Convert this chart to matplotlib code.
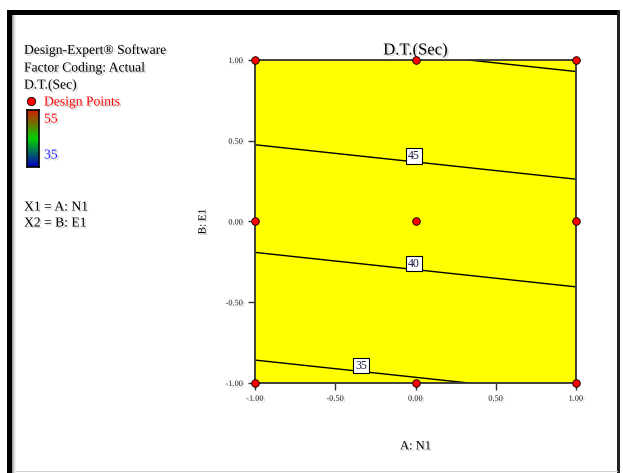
import numpy as np
import matplotlib.pyplot as plt
import matplotlib.patheffects as pe
from matplotlib.colors import LinearSegmentedColormap
from matplotlib.patches import Rectangle

plt.rcParams['font.family'] = ['Liberation Serif', 'DejaVu Serif']

# fitted linear model for D.T.(Sec) in coded factors
intercept = 42.235
coef_a = 0.80   # A: N1
coef_b = 7.5    # B: E1

contour_levels = [35, 40, 45, 50]
label_spots = [(-0.34, -0.93), (-0.01, -0.30), (-0.01, 0.37)]

# design points (coded A, B)
design_a = [-1, 0, 1, -1, 0, 1, -1, 0, 1]
design_b = [1, 1, 1, 0, 0, 0, -1, -1, -1]

ticks = [-1.0, -0.5, 0.0, 0.5, 1.0]
tick_labels = ['-1.00', '-0.50', '0.00', '0.50', '1.00']

W, H = 623, 473
fig = plt.figure(figsize=(W / 100, H / 100), dpi=100)
fig.patch.set_facecolor('white')

shadow = [pe.SimplePatchShadow(offset=(1.2, -1.2), shadow_rgbFace='grey', alpha=0.35), pe.Normal()]


def px(x, y):
    return x / W, 1 - y / H


# outer frame
fig.add_artist(Rectangle(px(7, 473), 5 / W, 463 / H, transform=fig.transFigure, color='black', lw=0))
fig.add_artist(Rectangle(px(7, 15), 613 / W, 5 / H, transform=fig.transFigure, color='black', lw=0))
fig.add_artist(Rectangle(px(617, 473), 2.5 / W, 463 / H, transform=fig.transFigure, color='#222222', lw=0))
fig.add_artist(Rectangle(px(12, 472), 606 / W, 1.2 / H, transform=fig.transFigure, color='#d0d0d0', lw=0))
for i, g in enumerate(['#9a9a9a', '#c4c4c4', '#e2e2e2', '#f2f2f2']):
    fig.add_artist(Rectangle(px(12 + i, 473), 1 / W, 458 / H, transform=fig.transFigure, color=g, lw=0))

ax = fig.add_axes([255 / W, 1 - 383 / H, 321 / W, 323 / H])

A, B = np.meshgrid(np.linspace(-1, 1, 201), np.linspace(-1, 1, 201))
Z = intercept + coef_a * A + coef_b * B

ax.contourf(A, B, Z, levels=[Z.min() - 1, Z.max() + 1], colors=['#ffff00'])
cs = ax.contour(A, B, Z, levels=contour_levels, colors='black', linewidths=1.0)
labels = ax.clabel(cs, levels=[35, 40, 45], manual=label_spots, inline=False,
                   fmt='%d', fontsize=8.5)
for t in labels:
    x, y = t.get_position()
    t.set_position((x, y + 0.036))
    t.set_rotation(0)
    t.set_color('#1a1a40')
    t.set_zorder(6)
    t.set_bbox(dict(facecolor='white', edgecolor='black', lw=0.8, pad=1.3))

ax.plot(design_a, design_b, 'o', color='red', mec='black', mew=0.6, ms=5.5,
        clip_on=False, zorder=5)

ax.set_xlim(-1, 1)
ax.set_ylim(-1, 1)
ax.set_xticks(ticks)
ax.set_xticklabels(tick_labels)
ax.set_yticks(ticks)
ax.set_yticklabels(tick_labels)
ax.tick_params(direction='out', length=5, width=1, labelsize=6, colors='#333333',
               labelcolor='#222222')
for t in ax.get_xticklabels() + ax.get_yticklabels():
    t.set_path_effects(shadow)
for s in ax.spines.values():
    s.set_linewidth(1.3)
    s.set_color('#333333')

ax.set_title('D.T.(Sec)', fontsize=12, pad=4, path_effects=shadow)
ax.set_xlabel('A: N1', fontsize=9, labelpad=27, path_effects=shadow)
ax.set_ylabel('B: E1', fontsize=8, labelpad=13, path_effects=shadow)

# side legend text
for y, s in [(50, 'Design-Expert® Software'), (68, 'Factor Coding: Actual'),
             (85, 'D.T.(Sec)'), (207, 'X1 = A: N1'), (223, 'X2 = B: E1')]:
    fig.text(*px(24, y), s, fontsize=9.8, va='center', ha='left', path_effects=shadow)
fig.text(*px(44, 102), 'Design Points', fontsize=9.8, color='red', va='center', path_effects=shadow)
fig.text(*px(44, 119), '55', fontsize=9.8, color='red', va='center', path_effects=shadow)
fig.text(*px(44, 155), '35', fontsize=9.8, color='#2020ff', va='center', path_effects=shadow)
fig.add_artist(plt.Line2D([31 / W], [1 - 101 / H], marker='o', color='red', mec='black',
                          mew=0.6, ms=6, transform=fig.transFigure))

cmap = LinearSegmentedColormap.from_list('dx', ['#0000c0', '#00d000', '#d02000'])
cax = fig.add_axes([27 / W, 1 - 167 / H, 12 / W, 57 / H])
cax.imshow(np.linspace(1, 0, 100)[:, None], aspect='auto', cmap=cmap,
           extent=[0, 1, 0, 1], origin='upper')
cax.set_xticks([])
cax.set_yticks([])
for s in cax.spines.values():
    s.set_linewidth(1.2)

fig.savefig('out.png', dpi=100)
